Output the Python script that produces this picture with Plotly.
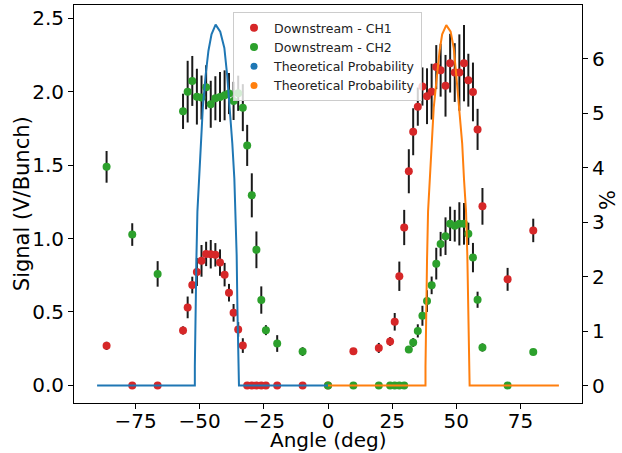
import plotly.graph_objects as go

# ---- data ----
angle = [-86.3, -76.3, -66.4,
         -56.5, -54.7, -52.9, -51.1, -49.3, -47.5, -45.7, -43.9, -42.1, -40.3,
         -38.6, -36.8, -35.0, -33.2, -31.5, -29.7, -27.9, -26.0, -24.2,
         -19.8, -9.9, 0.0, 9.9, 19.8,
         24.2, 26.0, 27.8, 29.7, 31.5, 33.2, 35.0, 36.8, 38.6, 40.4, 42.2,
         43.9, 45.8, 47.6, 49.4, 51.2, 53.0, 54.7, 56.5, 58.3, 60.2,
         70.0, 80.0]

ch1 = [0.269, 0.0, 0.0,
       0.374, 0.531, 0.683, 0.772, 0.848, 0.895, 0.893, 0.889, 0.836, 0.754,
       0.631, 0.494, 0.381, 0.271, 0.0, 0.0, 0.0, 0.0, 0.0,
       0.0, 0.0, 0.0, 0.232, 0.255,
       0.299, 0.433, 0.743, 1.075, 1.458, 1.727, 1.898, 2.035, 1.969, 2.0, 2.167,
       2.146, 2.04, 2.194, 2.13, 2.13, 2.194, 2.078, 1.998, 1.743, 1.219,
       0.722, 1.055]
ch1_err = [0.028, 0.0, 0.0,
           0.028, 0.074, 0.057, 0.095, 0.108, 0.083, 0.097, 0.08, 0.09, 0.08,
           0.06, 0.06, 0.05, 0.05, 0.0, 0.0, 0.0, 0.0, 0.0,
           0.0, 0.0, 0.0, 0.01, 0.034,
           0.03, 0.06, 0.10, 0.12, 0.15, 0.16, 0.13, 0.13, 0.19, 0.19, 0.15,
           0.18, 0.21, 0.20, 0.20, 0.26, 0.26, 0.18, 0.20, 0.14, 0.125,
           0.078, 0.08]

ch2 = [1.488, 1.027, 0.759,
       1.866, 2.0, 2.073, 1.966, 1.96, 2.03, 1.914, 1.955, 1.964, 1.975,
       1.987, 1.937, 1.989, 1.891, 1.634, 1.294, 0.923, 0.581, 0.376,
       0.285, 0.23, 0.0, 0.0, 0.0,
       0.0, 0.0, 0.0, 0.0, 0.244, 0.292, 0.371, 0.474, 0.574, 0.681, 0.829,
       0.962, 1.016, 1.1, 1.087, 1.1, 1.1, 1.032, 0.87, 0.583, 0.258,
       0.0, 0.228]
ch2_err = [0.108, 0.077, 0.087,
           0.12, 0.21, 0.17, 0.19, 0.15, 0.15, 0.16, 0.15, 0.17, 0.17,
           0.14, 0.13, 0.12, 0.16, 0.14, 0.15, 0.125, 0.093, 0.034,
           0.057, 0.03, 0.0, 0.0, 0.0,
           0.0, 0.0, 0.0, 0.0, 0.02, 0.03, 0.045, 0.068, 0.074, 0.06, 0.108,
           0.083, 0.128, 0.117, 0.108, 0.147, 0.142, 0.076, 0.10, 0.055, 0.028,
           0.0, 0.01]

# theoretical probability (%)
theo1_angle = [-90.0, -51.9, -51.9, -51.8, -51.6, -51.3, -50.9, -49.6, -48.8,
               -47.7, -46.6, -45.4, -43.8, -42.0, -40.4, -39.3, -38.3, -37.3,
               -36.5, -36.0, -35.6, -35.3, -35.0, -34.9, -34.7, 0.0]
theo1_pct = [0.0, 0.0, 0.35, 0.9, 1.4, 2.3, 3.2, 4.45, 5.1,
             5.7, 6.15, 6.45, 6.63, 6.5, 6.2, 5.7, 5.1, 4.45,
             3.8, 3.2, 2.4, 1.4, 0.6, 0.3, 0.0, 0.0]
theo2_angle = [0.0, 38.0, 38.0, 38.1, 38.4, 38.6, 39.0, 40.3, 41.2, 42.5,
               43.5, 44.5, 46.1, 47.8, 49.0, 50.0, 51.1, 52.3, 53.0, 53.8,
               54.3, 54.7, 55.0, 55.1, 55.2, 90.0]
theo2_pct = [0.0, 0.0, 0.35, 0.9, 1.4, 2.3, 3.2, 4.45, 5.1, 5.7,
             6.15, 6.45, 6.62, 6.5, 6.2, 5.7, 5.1, 4.45, 3.8, 3.2,
             2.4, 1.4, 0.6, 0.3, 0.0, 0.0]

x_ticks = [-75, -50, -25, 0, 25, 50, 75]
x_ticktext = ["\u221275", "\u221250", "\u221225", "0", "25", "50", "75"]
y_ticks = [0.0, 0.5, 1.0, 1.5, 2.0, 2.5]
y2_ticks = [0, 1, 2, 3, 4, 5, 6]

RED, GREEN, BLUE, ORANGE = "#d62728", "#2ca02c", "#1f77b4", "#ff7f0e"
FONT = "DejaVu Sans"

fig = go.Figure()

fig.add_trace(go.Scatter(
    x=angle, y=ch1, mode="markers", name="Downstream - CH1",
    marker=dict(color=RED, size=8),
    error_y=dict(type="data", array=ch1_err, color="#1a1a1a", thickness=2, width=0),
))
fig.add_trace(go.Scatter(
    x=angle, y=ch2, mode="markers", name="Downstream - CH2",
    marker=dict(color=GREEN, size=8),
    error_y=dict(type="data", array=ch2_err, color="#1a1a1a", thickness=2, width=0),
))
fig.add_trace(go.Scatter(
    x=theo1_angle, y=theo1_pct, mode="lines", yaxis="y2", showlegend=False,
    line=dict(color=BLUE, width=2), hoverinfo="skip",
))
fig.add_trace(go.Scatter(
    x=theo2_angle, y=theo2_pct, mode="lines", yaxis="y2", showlegend=False,
    line=dict(color=ORANGE, width=2), hoverinfo="skip",
))
# legend entries for the theoretical curves (drawn as dots in the reference)
fig.add_trace(go.Scatter(x=[None], y=[None], mode="markers", yaxis="y2",
                         name="Theoretical Probability", marker=dict(color=BLUE, size=7)))
fig.add_trace(go.Scatter(x=[None], y=[None], mode="markers", yaxis="y2",
                         name="Theoretical Probability", marker=dict(color=ORANGE, size=7)))

axis_common = dict(showgrid=False, zeroline=False, showline=True, linecolor="black",
                   linewidth=1, ticks="outside", ticklen=5, tickcolor="black",
                   automargin=False,
                   tickfont=dict(family=FONT, size=20, color="black"))

fig.update_layout(
    width=622, height=453,
    margin=dict(l=74, r=40, t=5, b=50),
    paper_bgcolor="white", plot_bgcolor="white",
    font=dict(family=FONT, color="black"),
    xaxis=dict(range=[-99, 99], tickvals=x_ticks, ticktext=x_ticktext, mirror=True,
               ticklabelstandoff=-5, **axis_common),
    yaxis=dict(range=[-0.12, 2.59], tickvals=y_ticks, tickformat=".1f",
               **axis_common),
    yaxis2=dict(range=[-0.32, 6.99], tickvals=y2_ticks, overlaying="y", side="right",
                **axis_common),
    legend=dict(x=0.313, y=0.982, xanchor="left", yanchor="top",
                bgcolor="rgba(255,255,255,0.8)", bordercolor="#cccccc", borderwidth=1,
                font=dict(family=FONT, size=12.5, color="#222"),
                itemwidth=30, tracegroupgap=0),
    showlegend=True,
    annotations=[
        dict(text="Angle (deg)", xref="paper", yref="paper", x=0.5, y=-0.093,
             xanchor="center", yanchor="middle", showarrow=False,
             font=dict(family=FONT, size=20, color="black")),
        dict(text="Signal (V/Bunch)", xref="paper", yref="paper", x=-0.102, y=0.5,
             xanchor="center", yanchor="middle", showarrow=False, textangle=-90,
             font=dict(family=FONT, size=21, color="black")),
        dict(text="%", xref="paper", yref="paper", x=1.051, y=0.51,
             xanchor="center", yanchor="middle", showarrow=False, textangle=-90,
             font=dict(family=FONT, size=21, color="black")),
    ],
)

fig.write_html("out.html",
               config={"displayModeBar": False},
               post_script="document.body.style.margin='0';document.body.style.padding='0';")
